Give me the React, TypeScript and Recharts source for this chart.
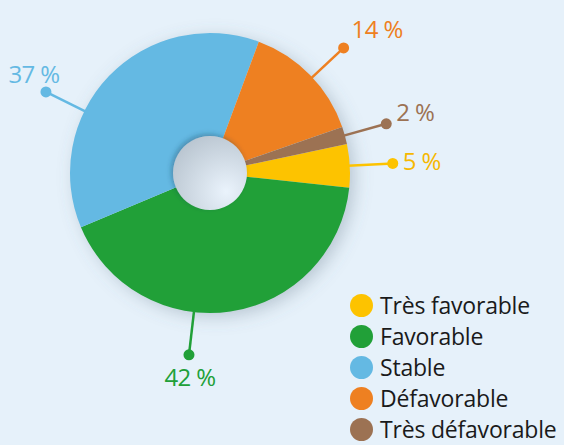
import { PieChart, Pie, Cell, Legend } from "recharts";

const categories = ["Très favorable", "Favorable", "Stable", "Défavorable", "Très défavorable"];
const shares = [5, 42, 37, 14, 2];
const colors = ["#fdc300", "#21a038", "#64b9e3", "#ee8021", "#9c7253"];
const labelColors = ["#f6b800", "#21a038", "#64b9e3", "#ee8021", "#9c7253"];

const data = categories.map((name, i) => ({ name, value: shares[i] }));
const holeData = [{ name: "hole", value: 1 }];

const RAD = Math.PI / 180;
const FONT = "'Open Sans', sans-serif";

// per-slice label tweaks: angle shift off the mid angle, text offset from the dot
const labelTweak: Record<string, { da: number; dx: number; dy: number; anchor: "start" | "middle" }> = {
  "Très favorable": { da: 0, dx: 10, dy: -3, anchor: "start" },
  Favorable: { da: -15, dx: 1, dy: 22, anchor: "middle" },
  Stable: { da: 17.5, dx: -12, dy: -18, anchor: "middle" },
  "Défavorable": { da: -1.3, dx: 8, dy: -19, anchor: "start" },
  "Très défavorable": { da: 0, dx: 10, dy: -12, anchor: "start" },
};

function renderLabel(props: any) {
  const { cx, cy, midAngle, outerRadius, index, name, value } = props;
  const t = labelTweak[name];
  const a = (midAngle + t.da) * RAD;
  const x1 = cx + (outerRadius - 2) * Math.cos(-a);
  const y1 = cy + (outerRadius - 2) * Math.sin(-a);
  const x2 = cx + (outerRadius + 43) * Math.cos(-a);
  const y2 = cy + (outerRadius + 43) * Math.sin(-a);
  const c = colors[index];
  return (
    <g>
      <line x1={x1} y1={y1} x2={x2} y2={y2} stroke={c} strokeWidth={2.5} />
      <circle cx={x2} cy={y2} r={5.5} fill={c} />
      <text
        x={x2 + t.dx}
        y={y2 + t.dy}
        textAnchor={t.anchor}
        dominantBaseline="central"
        fill={labelColors[index]}
        fontSize={24}
        fontFamily={FONT}
        letterSpacing={-0.6}
      >
        {`${value} %`}
      </text>
    </g>
  );
}

function LegendBox() {
  return (
    <div>
      {categories.map((c, i) => (
        <div key={c} style={{ display: "flex", alignItems: "center", height: 31 }}>
          <span
            style={{
              width: 23,
              height: 23,
              borderRadius: "50%",
              background: colors[i],
              display: "inline-block",
              marginRight: 7,
              flexShrink: 0,
            }}
          />
          <span style={{ fontFamily: FONT, fontSize: 23, lineHeight: "21px", color: "#1a1a1a", letterSpacing: -0.2, whiteSpace: "nowrap" }}>
            {c}
          </span>
        </div>
      ))}
    </div>
  );
}

export default function App() {
  return (
    <div style={{ position: "fixed", left: 0, top: 0, width: 564, height: 445, background: "#e6f1fa", overflow: "hidden" }}>
      <PieChart width={564} height={445} margin={{ top: 0, right: 0, bottom: 0, left: 0 }}>
        <defs>
          <filter id="pieShadow" x="-30%" y="-30%" width="160%" height="160%">
            <feDropShadow dx={5} dy={4} stdDeviation={9} floodColor="#5a6e80" floodOpacity={0.35} />
          </filter>
          <filter id="holeShadow" x="-30%" y="-30%" width="160%" height="160%">
            <feDropShadow dx={-2} dy={-2} stdDeviation={2.5} floodColor="#1c3a55" floodOpacity={0.35} />
          </filter>
          <radialGradient id="holeGrad" cx="72%" cy="75%" r="85%">
            <stop offset="0%" stopColor="#eaf3fc" />
            <stop offset="100%" stopColor="#b9c5d0" />
          </radialGradient>
        </defs>
        <Pie
          data={holeData}
          dataKey="value"
          cx={210}
          cy={173}
          innerRadius={0}
          outerRadius={139}
          stroke="none"
          isAnimationActive={false}
          legendType="none"
        >
          <Cell fill="#d9e6f1" filter="url(#pieShadow)" />
        </Pie>
        <Pie
          data={data}
          dataKey="value"
          nameKey="name"
          cx={210}
          cy={173}
          innerRadius={36}
          outerRadius={140}
          startAngle={12}
          endAngle={-348}
          stroke="none"
          label={renderLabel}
          labelLine={false}
          isAnimationActive={false}
        >
          {data.map((d, i) => (
            <Cell key={d.name} fill={colors[i]} />
          ))}
        </Pie>
        <Pie
          data={holeData}
          dataKey="value"
          cx={210}
          cy={173}
          innerRadius={0}
          outerRadius={37}
          stroke="none"
          isAnimationActive={false}
          legendType="none"
        >
          <Cell fill="url(#holeGrad)" filter="url(#holeShadow)" />
        </Pie>
        <Legend
          content={<LegendBox />}
          wrapperStyle={{ position: "absolute", left: 350, top: 290, width: 214 }}
        />
      </PieChart>
    </div>
  );
}
